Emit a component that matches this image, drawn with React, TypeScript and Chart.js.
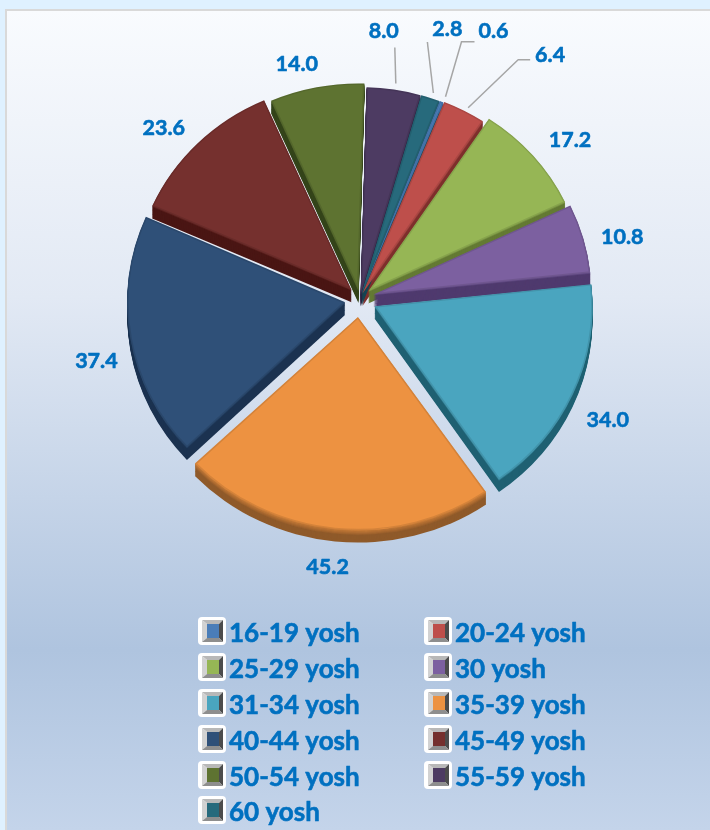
import React, { useEffect, useRef } from "react";
import { Chart, registerables } from "chart.js";

Chart.register(...registerables);

const categories = ["16-19 yosh", "20-24 yosh", "25-29 yosh", "30 yosh", "31-34 yosh", "35-39 yosh", "40-44 yosh", "45-49 yosh", "50-54 yosh", "55-59 yosh", "60 yosh"];
const values = [0.6, 6.4, 17.2, 10.8, 34.0, 45.2, 37.4, 23.6, 14.0, 8.0, 2.8];
const sliceColors = ["#4A7DB8", "#BE4F4B", "#96B655", "#7C60A0", "#4AA5BF", "#ED9241", "#2F5078", "#75302E", "#5E7331", "#4D3B62", "#276A7C"];
const wallColors = ["#2F5480", "#7E2F2C", "#647A34", "#4F3A6E", "#1F6072", "#8F5A2A", "#1B3250", "#4A1614", "#34441A", "#2E2140", "#164653"];

const sliceOffsets = [4, 5, 11, 14, 16, 20, 15, 12, 8, 4, 4];
const sliceLift = [0, 0, 0, 0, 2, 0, 2, 0, 0, 0, 0];
const sliceScaleX = [1, 1, 1, 1, 1, 1.03, 1, 1, 1, 1, 1];
const sliceScaleY = [1, 1, 1, 1, 1.02, 1.03, 1.02, 1, 1, 1, 1];
const wallBlend = [1, 1, 1, 1, 1, 5, 1, 1, 1, 1, 1];
const labelNudges: [number, number][] = [[52, -72], [86, -57], [37, -16], [39, -2], [35, 29], [-8, 43], [-34, 24], [-34, -16], [-20, -24], [-10, -59], [17, -70]];
const leaderPaths: Record<number, [number, number][]> = {
  0: [[4, -5], [20, -60], [33, -60]],
  1: [[4, -3], [54, -51], [66, -51]],
  9: [[2, -6], [1, -42]],
  10: [[3, -5], [-3, -56]],
};

const CX = 360, CY = 298, SQUASH = 0.95, DEPTH = 13;
const TEXT = "#0070C0";

function placeSlice(ctx: CanvasRenderingContext2D, arc: any, i: number, lift = 0) {
  const mid = (arc.startAngle + arc.endAngle) / 2;
  ctx.translate(Math.cos(mid) * sliceOffsets[i], Math.sin(mid) * sliceOffsets[i] + sliceLift[i] + lift);
  ctx.translate(arc.x, arc.y);
  ctx.scale(sliceScaleX[i], sliceScaleY[i]);
  ctx.translate(-arc.x, -arc.y);
}

function slicePath(ctx: CanvasRenderingContext2D, arc: any) {
  ctx.beginPath();
  ctx.moveTo(arc.x, arc.y);
  ctx.arc(arc.x, arc.y, arc.outerRadius, arc.startAngle, arc.endAngle);
  ctx.closePath();
}

function drawIcon(ctx: CanvasRenderingContext2D, x: number, y: number, color: string) {
  ctx.fillStyle = "#FFFFFF";
  ctx.beginPath();
  ctx.roundRect(x, y, 28, 28, 4);
  ctx.fill();
  const l = x + 4, t = y + 3, r = x + 25, b = y + 25;
  const il = l + 5, it = t + 4, ir = r - 4, ib = b - 4;
  const quad = (pts: number[], fill: string) => {
    ctx.fillStyle = fill;
    ctx.beginPath();
    ctx.moveTo(pts[0], pts[1]);
    for (let k = 2; k < pts.length; k += 2) ctx.lineTo(pts[k], pts[k + 1]);
    ctx.closePath();
    ctx.fill();
  };
  quad([l, t, r, t, ir, it, il, it], "#B8B8B8");
  quad([l, t, il, it, il, ib, l, b], "#D2D2D2");
  quad([r, t, r, b, ir, ib, ir, it], "#4C4C4C");
  quad([l, b, r, b, ir, ib, il, ib], "#8E8E8E");
  ctx.fillStyle = color;
  ctx.fillRect(il, it, ir - il, ib - it);
}

function heavyText(ctx: CanvasRenderingContext2D, s: string, x: number, y: number, w: number) {
  ctx.fillStyle = TEXT;
  ctx.strokeStyle = TEXT;
  ctx.lineWidth = w;
  ctx.lineJoin = "round";
  ctx.strokeText(s, x, y);
  ctx.fillText(s, x, y);
}

const scenePlugin = {
  id: "scene",
  beforeDraw(chart: any) {
    const { ctx, width, height } = chart;
    ctx.save();
    ctx.fillStyle = "#DFF1FF";
    ctx.fillRect(0, 0, width, height);
    ctx.fillStyle = "#D9D9D9";
    ctx.fillRect(5, 9, width - 5, height - 9);
    const g = ctx.createLinearGradient(0, 10, 0, height);
    g.addColorStop(0, "#F9FBFE");
    g.addColorStop(0.35, "#E2E9F4");
    g.addColorStop(0.78, "#AFC4DF");
    g.addColorStop(1, "#C4D4EA");
    ctx.fillStyle = g;
    ctx.fillRect(7, 11, width - 7, height - 11);
    ctx.restore();
  },
  beforeDatasetDraw(chart: any) {
    const { ctx, chartArea } = chart;
    const arcs = chart.getDatasetMeta(0).data;
    ctx.save();
    ctx.translate(CX, CY);
    ctx.scale(1, SQUASH);
    ctx.translate(-CX, -CY);
    arcs.forEach((arc: any, i: number) => {
      for (let d = DEPTH; d >= 1; d--) {
        ctx.save();
        placeSlice(ctx, arc, i, d);
        slicePath(ctx, arc);
        ctx.fillStyle = wallColors[i];
        ctx.fill();
        if (d <= wallBlend[i]) {
          ctx.globalAlpha = ((wallBlend[i] + 1 - d) / (wallBlend[i] + 1)) * 0.7;
          ctx.fillStyle = sliceColors[i];
          ctx.fill();
        }
        ctx.restore();
      }
    });
    arcs.forEach((arc: any, i: number) => {
      ctx.save();
      placeSlice(ctx, arc, i);
      arc.draw(ctx, chartArea);
      slicePath(ctx, arc);
      ctx.clip();
      slicePath(ctx, arc);
      ctx.lineWidth = 3;
      ctx.strokeStyle = "rgba(0,0,0,0.10)";
      ctx.stroke();
      ctx.restore();
    });
    ctx.restore();
    return false;
  },
  afterDraw(chart: any) {
    const { ctx } = chart;
    const arcs = chart.getDatasetMeta(0).data;
    ctx.save();
    ctx.font = "bold 21.5px Lato";
    ctx.textAlign = "center";
    ctx.textBaseline = "middle";
    arcs.forEach((arc: any, i: number) => {
      const mid = (arc.startAngle + arc.endAngle) / 2;
      const reach = arc.outerRadius + sliceOffsets[i];
      const ax = arc.x + Math.cos(mid) * reach;
      const ay = arc.y + Math.sin(mid) * reach * SQUASH;
      const path = leaderPaths[i];
      if (path) {
        ctx.beginPath();
        path.forEach(([dx, dy], k) => (k ? ctx.lineTo(ax + dx, ay + dy) : ctx.moveTo(ax + dx, ay + dy)));
        ctx.strokeStyle = "#A6A6A6";
        ctx.lineWidth = 1.5;
        ctx.stroke();
      }
      heavyText(ctx, values[i].toFixed(1), ax + labelNudges[i][0], ay + labelNudges[i][1] + 1, 0.6);
    });

    ctx.font = "bold 26px Lato";
    ctx.textAlign = "left";
    categories.forEach((name, i) => {
      const col = i % 2, row = Math.floor(i / 2);
      const x = col ? 424 : 198;
      const y = 632 + row * 36 - (row === 5 ? 1 : 0);
      drawIcon(ctx, x, y - 15, sliceColors[i]);
      heavyText(ctx, name, x + 31, y + 1.5, 0.6);
    });
    ctx.restore();
  },
};

export default function App() {
  const ref = useRef<HTMLCanvasElement>(null);
  useEffect(() => {
    const chart = new Chart(ref.current!, {
      type: "pie",
      data: {
        labels: categories,
        datasets: [{
          data: values,
          backgroundColor: sliceColors,
          borderWidth: 0,
        } as any],
      },
      options: {
        responsive: false,
        animation: false,
        rotation: 21,
        events: [],
        layout: { padding: { left: 142, right: 132, top: 80, bottom: 314 } },
        plugins: { legend: { display: false }, tooltip: { enabled: false }, title: { display: false } },
      },
      plugins: [scenePlugin],
    });
    return () => chart.destroy();
  }, []);
  return (
    <div style={{ position: "absolute", left: 0, top: 0, width: 710, height: 830 }}>
      <canvas ref={ref} width={710} height={830} style={{ display: "block" }} />
    </div>
  );
}
